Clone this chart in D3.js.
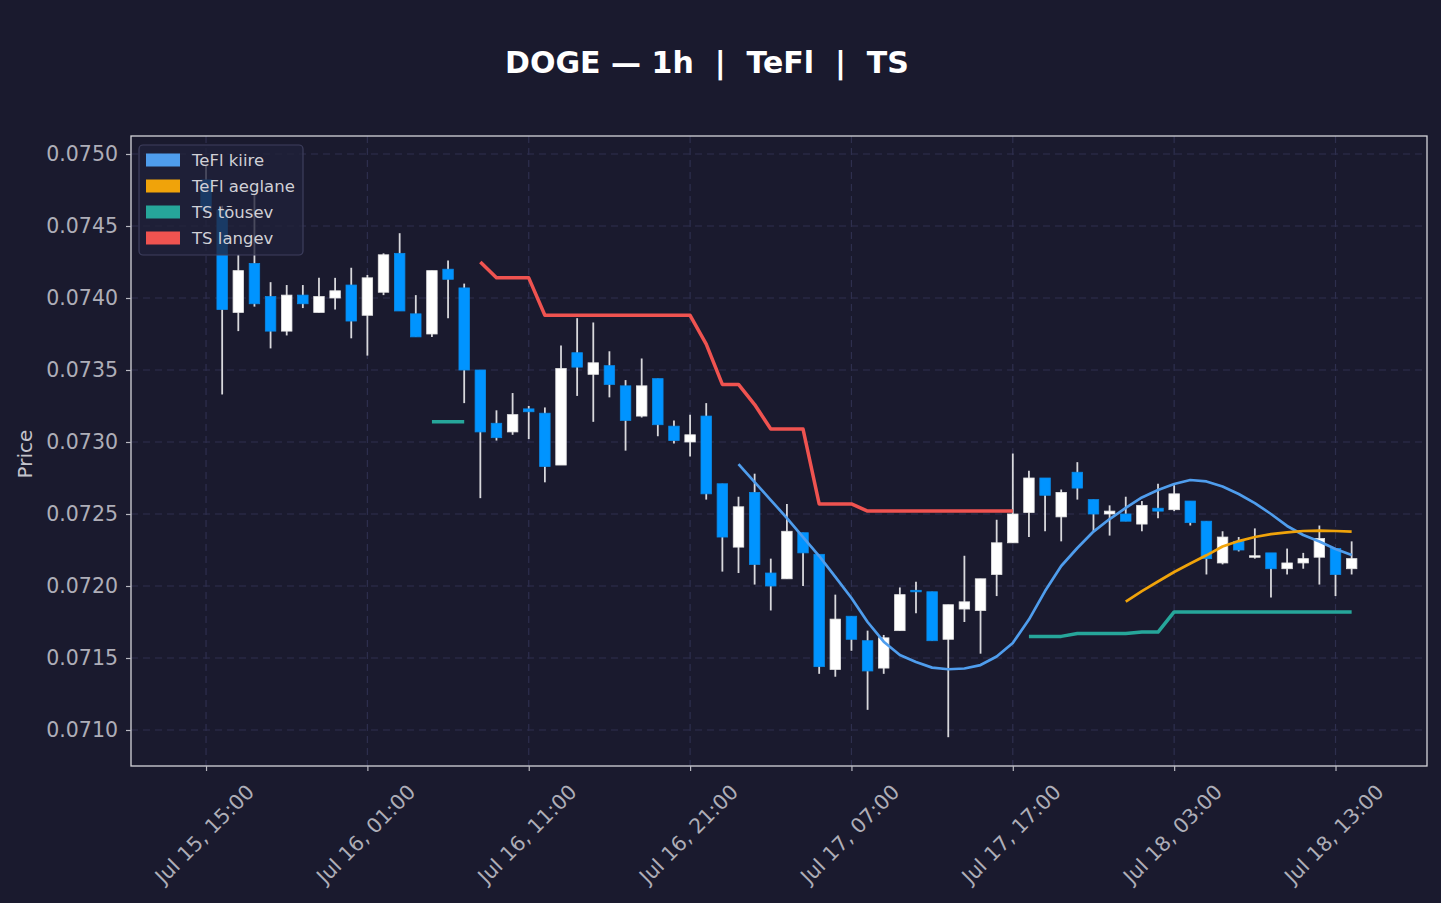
<!DOCTYPE html>
<html>
<head>
<meta charset="utf-8">
<script src="https://cdn.jsdelivr.net/npm/d3@7"></script>
<style>
  body { margin: 0; background: #1a1a2e; }
  svg { display: block; }
</style>
</head>
<body>
<svg id="chart" width="1441" height="903"></svg>
<script>
// hourly candles, first one Jul 15 15:00
const firstHour = "2024-07-15T15:00:00Z";

const open = [0.07482,0.07461,0.07390,0.07424,0.07401,0.07377,0.07402,0.07390,0.07400,0.07409,
  0.07388,0.07404,0.07431,0.07389,0.07375,0.07420,0.07407,0.07350,0.07313,0.07307,
  0.07323,0.07320,0.07284,0.07362,0.07347,0.07353,0.07339,0.07318,0.07344,0.07311,
  0.07300,0.07318,0.07271,0.07227,0.07265,0.07209,0.07205,0.07237,0.07222,0.07142,
  0.07179,0.07162,0.07143,0.07169,0.07197,0.07196,0.07163,0.07184,0.07183,0.07208,
  0.07230,0.07251,0.07275,0.07248,0.07279,0.07260,0.07250,0.07250,0.07243,0.07254,
  0.07253,0.07259,0.07245,0.07216,0.07231,0.07220,0.07223,0.07212,0.07216,0.07220,
  0.07226,0.07212];
const high = [0.07492,0.07464,0.07430,0.07472,0.07411,0.07409,0.07409,0.07414,0.07414,0.07421,
  0.07416,0.07431,0.07445,0.07402,0.07419,0.07426,0.07410,0.07350,0.07322,0.07334,
  0.07325,0.07324,0.07367,0.07386,0.07383,0.07363,0.07343,0.07358,0.07344,0.07315,
  0.07319,0.07327,0.07271,0.07262,0.07278,0.07219,0.07257,0.07237,0.07222,0.07194,
  0.07179,0.07169,0.07166,0.07199,0.07203,0.07196,0.07187,0.07221,0.07205,0.07246,
  0.07292,0.07280,0.07275,0.07267,0.07286,0.07260,0.07256,0.07262,0.07259,0.07271,
  0.07270,0.07259,0.07245,0.07238,0.07234,0.07240,0.07223,0.07226,0.07223,0.07242,
  0.07226,0.07231];
const low = [0.07458,0.07333,0.07377,0.07394,0.07365,0.07374,0.07393,0.07390,0.07392,0.07372,
  0.07360,0.07402,0.07391,0.07373,0.07373,0.07386,0.07327,0.07261,0.07301,0.07305,
  0.07302,0.07272,0.07284,0.07332,0.07314,0.07331,0.07294,0.07317,0.07304,0.07299,
  0.07290,0.07260,0.07210,0.07209,0.07201,0.07183,0.07205,0.07200,0.07139,0.07137,
  0.07155,0.07114,0.07139,0.07169,0.07181,0.07162,0.07095,0.07175,0.07153,0.07193,
  0.07230,0.07234,0.07238,0.07231,0.07260,0.07238,0.07235,0.07245,0.07238,0.07247,
  0.07252,0.07242,0.07208,0.07215,0.07224,0.07219,0.07192,0.07208,0.07212,0.07201,
  0.07193,0.07208];
const close = [0.07461,0.07392,0.07419,0.07396,0.07377,0.07402,0.07396,0.07401,0.07405,0.07384,
  0.07414,0.07430,0.07391,0.07373,0.07419,0.07413,0.07350,0.07307,0.07303,0.07319,
  0.07321,0.07283,0.07351,0.07352,0.07355,0.07340,0.07315,0.07339,0.07312,0.07301,
  0.07305,0.07264,0.07234,0.07255,0.07215,0.07200,0.07238,0.07223,0.07144,0.07177,
  0.07163,0.07141,0.07164,0.07194,0.07196,0.07162,0.07187,0.07189,0.07205,0.07230,
  0.07250,0.07275,0.07263,0.07265,0.07268,0.07250,0.07252,0.07245,0.07256,0.07252,
  0.07264,0.07244,0.07219,0.07234,0.07225,0.07221,0.07212,0.07216,0.07219,0.07233,
  0.07208,0.07219];

// TeFl lines (start index = first candle with a value)
const teflFastStart = 33;
const teflFast = [0.072847,0.072722,0.072597,0.072472,0.072340,0.072208,0.072063,0.071917,0.071750,0.071613,
  0.071521,0.071472,0.071433,0.071422,0.071427,0.071451,0.071510,0.071604,0.071767,0.071965,
  0.072139,0.072264,0.072378,0.072465,0.072542,0.072615,0.072667,0.072708,0.072736,0.072726,
  0.072691,0.072639,0.072576,0.072500,0.072417,0.072354,0.072309,0.072257,0.072215];
const teflSlowStart = 57;
const teflSlow = [0.071891,0.071965,0.072031,0.072097,0.072156,0.072213,0.072274,0.072312,0.072340,0.072360,
  0.072372,0.072382,0.072384,0.072382,0.072377];

// TS trailing stops, null where not active
const N = null;
const tsUp = [N,N,N,N,N,N,N,N,N,N, N,N,N,N,0.07314,0.07314,0.07314,N,N,N,
  N,N,N,N,N,N,N,N,N,N, N,N,N,N,N,N,N,N,N,N,
  N,N,N,N,N,N,N,N,N,N, N,0.07165,0.07165,0.07165,0.07167,0.07167,0.07167,0.07167,0.07168,0.07168,
  0.07182,0.07182,0.07182,0.07182,0.07182,0.07182,0.07182,0.07182,0.07182,0.07182, 0.07182,0.07182];
const tsDown = [N,N,N,N,N,N,N,N,N,N, N,N,N,N,N,N,N,0.07425,0.07414,0.07414,
  0.07414,0.07388,0.07388,0.07388,0.07388,0.07388,0.07388,0.07388,0.07388,0.07388,
  0.07388,0.07368,0.07340,0.07340,0.07326,0.07309,0.07309,0.07309,0.07257,0.07257,
  0.07257,0.07252,0.07252,0.07252,0.07252,0.07252,0.07252,0.07252,0.07252,0.07252,
  0.07252,N,N,N,N,N,N,N,N,N, N,N,N,N,N,N,N,N,N,N, N,N];

const priceTicks = d3.range(0.0710, 0.07501, 0.0005);
const timeTicks = ["2024-07-15T15:00:00Z","2024-07-16T01:00:00Z","2024-07-16T11:00:00Z","2024-07-16T21:00:00Z",
  "2024-07-17T07:00:00Z","2024-07-17T17:00:00Z","2024-07-18T03:00:00Z","2024-07-18T13:00:00Z"].map(s => new Date(s));

const legendItems = [
  {label: "TeFl kiire", color: "#4f9ded"},
  {label: "TeFl aeglane", color: "#f0a30a"},
  {label: "TS tõusev", color: "#26a69a"},
  {label: "TS langev", color: "#ef5350"}
];

const bg = "#1a1a2e";
const gridColor = "#2e2f4e";
const tickText = "#aeaeb8";

const svg = d3.select("#chart");
const W = 1441, H = 903;
const plot = {left: 131, right: 1427, top: 136, bottom: 766};

svg.append("rect").attr("width", W).attr("height", H).attr("fill", bg);

const t0 = new Date(firstHour);
const times = open.map((_, i) => d3.utcHour.offset(t0, i));

const x = d3.scaleTime()
    .domain([new Date(+t0 - 4.65 * 3600e3), new Date(+t0 + 75.67 * 3600e3)])
    .range([plot.left, plot.right]);
const y = d3.scaleLinear()
    .domain([0.070750, 0.075125])
    .range([plot.bottom, plot.top]);

const candles = times.map((t, i) => ({t, o: open[i], h: high[i], l: low[i], c: close[i]}));

// grid
const grid = svg.append("g");
grid.selectAll(".gy")
    .data(priceTicks)
    .join("line")
    .attr("x1", plot.left).attr("x2", plot.right)
    .attr("y1", d => y(d)).attr("y2", d => y(d))
    .attr("stroke", gridColor).attr("stroke-width", 1.2)
    .attr("stroke-dasharray", "7,5");
grid.selectAll(".gx")
    .data(timeTicks)
    .join("line")
    .attr("x1", d => x(d)).attr("x2", d => x(d))
    .attr("y1", plot.top).attr("y2", plot.bottom)
    .attr("stroke", gridColor).attr("stroke-width", 1.2)
    .attr("stroke-dasharray", "7,5");

// candles
const step = x(d3.utcHour.offset(t0, 1)) - x(t0);
const bw = step * 0.65;
const cg = svg.append("g");
cg.selectAll(".wick")
    .data(candles)
    .join("line")
    .attr("x1", d => x(d.t)).attr("x2", d => x(d.t))
    .attr("y1", d => y(d.h)).attr("y2", d => y(d.l))
    .attr("stroke", "#d8d8dc").attr("stroke-width", 1.8);
cg.selectAll(".body")
    .data(candles)
    .join("rect")
    .attr("x", d => x(d.t) - bw / 2)
    .attr("width", bw)
    .attr("y", d => y(Math.max(d.o, d.c)))
    .attr("height", d => Math.max(1.5, Math.abs(y(d.o) - y(d.c))))
    .attr("fill", d => d.c >= d.o ? "#ffffff" : "#0094ff")
    .attr("stroke", d => d.c >= d.o ? "#e4e4e4" : "#0a8ae8")
    .attr("stroke-width", 0.8);

// indicator lines
function series(vals, start) {
    return vals.map((v, i) => ({t: times[start + i], v}));
}
const line = d3.line()
    .defined(d => d.v != null)
    .x(d => x(d.t))
    .y(d => y(d.v));

const lines = [
    {data: series(tsUp, 0), color: "#26a69a", w: 3.5},
    {data: series(tsDown, 0), color: "#ef5350", w: 3.5},
    {data: series(teflFast, teflFastStart), color: "#4f9ded", w: 2.7},
    {data: series(teflSlow, teflSlowStart), color: "#f0a30a", w: 2.7}
];
svg.append("g").selectAll("path")
    .data(lines)
    .join("path")
    .attr("d", d => line(d.data))
    .attr("fill", "none")
    .attr("stroke", d => d.color)
    .attr("stroke-width", d => d.w)
    .attr("stroke-linejoin", "round");

// frame
svg.append("rect")
    .attr("x", plot.left).attr("y", plot.top)
    .attr("width", plot.right - plot.left).attr("height", plot.bottom - plot.top)
    .attr("fill", "none").attr("stroke", "#d4d4da").attr("stroke-width", 1.3);

// axes
const yAxis = svg.append("g")
    .attr("transform", `translate(${plot.left},0)`)
    .call(d3.axisLeft(y).tickValues(priceTicks).tickFormat(d3.format(".4f")).tickSize(5).tickPadding(8));
const xAxis = svg.append("g")
    .attr("transform", `translate(0,${plot.bottom})`)
    .call(d3.axisBottom(x).tickValues(timeTicks).tickFormat(d3.utcFormat("%b %-d, %H:%M")).tickSize(5));
[yAxis, xAxis].forEach(a => {
    a.select(".domain").remove();
    a.selectAll(".tick line").attr("stroke", "#b8b8c0").attr("stroke-width", 1.2);
    a.selectAll(".tick text")
        .attr("fill", tickText)
        .attr("font-family", "DejaVu Sans")
        .attr("font-size", 20.5);
});
xAxis.selectAll(".tick text")
    .attr("y", 0).attr("dy", "0.35em")
    .attr("text-anchor", "middle")
    .attr("transform", "translate(-2,68) rotate(-45)");

svg.append("text")
    .attr("transform", "translate(25,454) rotate(-90)")
    .attr("text-anchor", "middle")
    .attr("dy", "0.35em")
    .attr("fill", "#c4c4cc")
    .attr("font-family", "DejaVu Sans")
    .attr("font-size", 20)
    .text("Price");

// title
svg.append("text")
    .attr("x", 707).attr("y", 73)
    .attr("text-anchor", "middle")
    .attr("fill", "#ffffff")
    .attr("font-family", "DejaVu Sans")
    .attr("font-weight", "bold")
    .attr("font-size", 30)
    .style("white-space", "pre")
    .attr("xml:space", "preserve")
    .text("DOGE — 1h  |  TeFl  |  TS");

// legend
const lg = svg.append("g");
lg.append("rect")
    .attr("x", 139).attr("y", 145).attr("width", 164).attr("height", 110)
    .attr("rx", 4)
    .attr("fill", "#20213a").attr("fill-opacity", 0.78)
    .attr("stroke", "#3e3f5e").attr("stroke-width", 1.2);
const li = lg.selectAll(".item")
    .data(legendItems)
    .join("g")
    .attr("transform", (d, i) => `translate(146,${160 + i * 26})`);
li.append("rect")
    .attr("x", 0).attr("y", -6.5).attr("width", 34).attr("height", 13)
    .attr("fill", d => d.color);
li.append("text")
    .attr("x", 46).attr("dy", "0.35em")
    .attr("fill", "#d0d0d6")
    .attr("font-family", "DejaVu Sans")
    .attr("font-size", 16.5)
    .text(d => d.label);
</script>
</body>
</html>
